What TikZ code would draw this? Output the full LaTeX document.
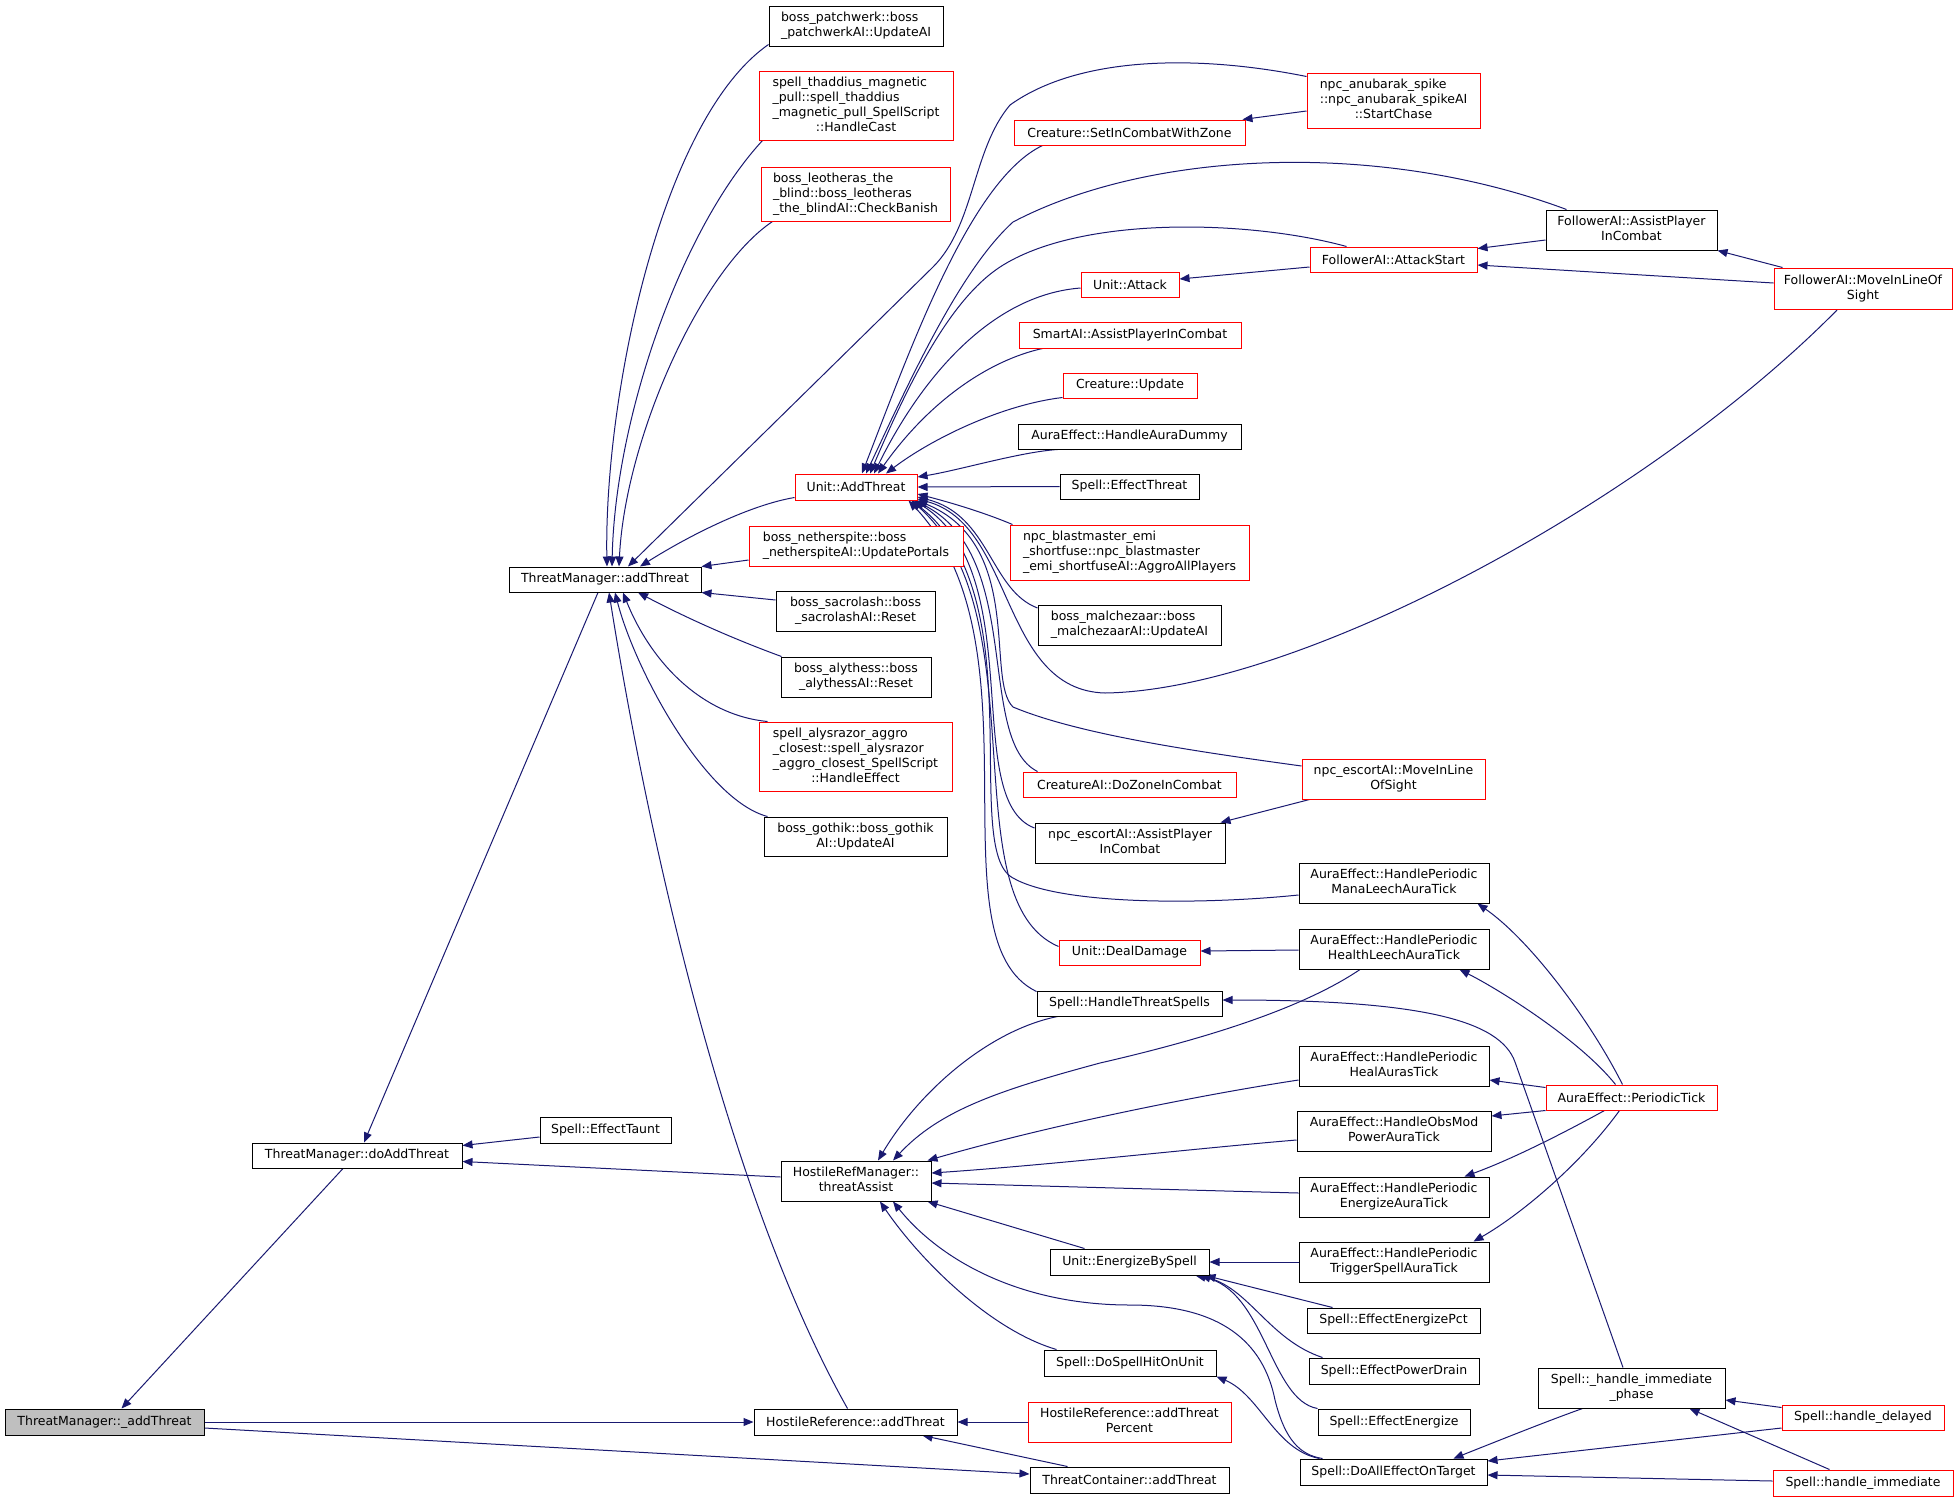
\documentclass[tikz,border=0pt]{standalone}
\usepackage{fontspec}
\setmainfont{DejaVu Sans}
\usetikzlibrary{arrows.meta,backgrounds}

\definecolor{edgeblue}{HTML}{191970}
\definecolor{rootgray}{HTML}{BFBFBF}

\tikzset{
  fn/.style={draw=black, fill=white, line width=1pt, inner sep=0pt,
    font=\fontsize{12.5}{15}\selectfont},
  fnred/.style={fn, draw=red},
  fnroot/.style={fn, fill=rootgray},
  call/.style={draw=edgeblue, line width=1pt,
    arrows={Triangle[length=10pt,width=8pt,fill=edgeblue]-}}
}

% box given by its corners (x1,y1) (x2,y2) in pixels
\newcommand{\callnode}[7][fn]{%
  \node[#1, minimum width={(#5-#3)*1pt}, minimum height={(#6-#4)*1pt}]
    (#2) at ({(#3+#5)/2},{(#4+#6)/2}) {#7};}
\newcommand{\rows}[1]{\begin{tabular}{@{}l@{}}#1\end{tabular}}
\newcommand{\lastrow}[1]{\multicolumn{1}{@{}c@{}}{#1}}

\begin{document}
\begin{tikzpicture}[x=1pt,y=-1pt]
\useasboundingbox (0,0) rectangle (1959,1502);

% left part
\callnode[fnroot]{root}{5}{1409}{204}{1435}{ThreatManager::\_addThreat}
\callnode{doAdd}{252}{1143}{462}{1168}{ThreatManager::doAddThreat}
\callnode{tmAdd}{509}{567}{701}{592}{ThreatManager::addThreat}
\callnode{effectTaunt}{540}{1117}{671}{1143}{Spell::EffectTaunt}
\callnode{threatAssist}{781}{1161}{931}{1201}{\rows{HostileRefManager::\\\lastrow{threatAssist}}}
\callnode{hostileAdd}{754}{1409}{957}{1435}{HostileReference::addThreat}

% callers of ThreatManager::addThreat
\callnode{patchwerk}{769}{6}{943}{46}{\rows{boss\_patchwerk::boss\\\lastrow{\_patchwerkAI::UpdateAI}}}
\callnode[fnred]{thaddius}{759}{71}{953}{140}{\rows{spell\_thaddius\_magnetic\\\_pull::spell\_thaddius\\\_magnetic\_pull\_SpellScript\\\lastrow{::HandleCast}}}
\callnode[fnred]{leotheras}{761}{167}{950}{221}{\rows{boss\_leotheras\_the\\\_blind::boss\_leotheras\\\lastrow{\_the\_blindAI::CheckBanish}}}
\callnode[fnred]{unitAdd}{795}{474}{917}{500}{Unit::AddThreat}
\callnode[fnred]{netherspite}{749}{526}{963}{566}{\rows{boss\_netherspite::boss\\\lastrow{\_netherspiteAI::UpdatePortals}}}
\callnode{sacrolash}{776}{591}{935}{631}{\rows{boss\_sacrolash::boss\\\lastrow{\_sacrolashAI::Reset}}}
\callnode{alythess}{781}{657}{931}{697}{\rows{boss\_alythess::boss\\\lastrow{\_alythessAI::Reset}}}
\callnode[fnred]{alysrazor}{759}{722}{952}{791}{\rows{spell\_alysrazor\_aggro\\\_closest::spell\_alysrazor\\\_aggro\_closest\_SpellScript\\\lastrow{::HandleEffect}}}
\callnode{gothik}{764}{817}{947}{856}{\rows{boss\_gothik::boss\_gothik\\\lastrow{AI::UpdateAI}}}

% callers of Unit::AddThreat
\callnode[fnred]{setInCombat}{1014}{120}{1245}{145}{Creature::SetInCombatWithZone}
\callnode[fnred]{anubarak}{1307}{73}{1480}{128}{\rows{npc\_anubarak\_spike\\::npc\_anubarak\_spikeAI\\\lastrow{::StartChase}}}
\callnode[fnred]{attackStart}{1310}{247}{1477}{272}{FollowerAI::AttackStart}
\callnode[fnred]{unitAttack}{1081}{272}{1179}{297}{Unit::Attack}
\callnode[fnred]{smartAssist}{1019}{322}{1241}{348}{SmartAI::AssistPlayerInCombat}
\callnode[fnred]{creatureUpdate}{1063}{373}{1197}{398}{Creature::Update}
\callnode{auraDummy}{1018}{424}{1241}{449}{AuraEffect::HandleAuraDummy}
\callnode{effectThreat}{1060}{474}{1199}{499}{Spell::EffectThreat}
\callnode{followerAssist}{1546}{210}{1717}{250}{\rows{FollowerAI::AssistPlayer\\\lastrow{InCombat}}}
\callnode[fnred]{followerMove}{1774}{268}{1952}{309}{\rows{FollowerAI::MoveInLineOf\\\lastrow{Sight}}}
\callnode[fnred]{blastmaster}{1010}{525}{1249}{580}{\rows{npc\_blastmaster\_emi\\\_shortfuse::npc\_blastmaster\\\lastrow{\_emi\_shortfuseAI::AggroAllPlayers}}}
\callnode{malchezaar}{1038}{605}{1221}{645}{\rows{boss\_malchezaar::boss\\\lastrow{\_malchezaarAI::UpdateAI}}}
\callnode[fnred]{escortMove}{1302}{759}{1485}{799}{\rows{npc\_escortAI::MoveInLine\\\lastrow{OfSight}}}
\callnode[fnred]{doZone}{1023}{772}{1236}{797}{CreatureAI::DoZoneInCombat}
\callnode{escortAssist}{1035}{823}{1225}{863}{\rows{npc\_escortAI::AssistPlayer\\\lastrow{InCombat}}}
\callnode{manaLeech}{1299}{863}{1489}{903}{\rows{AuraEffect::HandlePeriodic\\\lastrow{ManaLeechAuraTick}}}
\callnode[fnred]{dealDamage}{1059}{940}{1200}{965}{Unit::DealDamage}
\callnode{healthLeech}{1299}{929}{1489}{969}{\rows{AuraEffect::HandlePeriodic\\\lastrow{HealthLeechAuraTick}}}
\callnode{threatSpells}{1037}{991}{1222}{1016}{Spell::HandleThreatSpells}

% callers of HostileRefManager::threatAssist
\callnode{healAuras}{1299}{1046}{1489}{1086}{\rows{AuraEffect::HandlePeriodic\\\lastrow{HealAurasTick}}}
\callnode{obsMod}{1297}{1111}{1491}{1151}{\rows{AuraEffect::HandleObsMod\\\lastrow{PowerAuraTick}}}
\callnode{energizeAura}{1299}{1177}{1489}{1217}{\rows{AuraEffect::HandlePeriodic\\\lastrow{EnergizeAuraTick}}}
\callnode{triggerSpell}{1299}{1242}{1489}{1282}{\rows{AuraEffect::HandlePeriodic\\\lastrow{TriggerSpellAuraTick}}}
\callnode{energizeBySpell}{1050}{1249}{1209}{1275}{Unit::EnergizeBySpell}
\callnode{energizePct}{1307}{1308}{1480}{1333}{Spell::EffectEnergizePct}
\callnode{powerDrain}{1309}{1358}{1479}{1384}{Spell::EffectPowerDrain}
\callnode{effectEnergize}{1318}{1409}{1470}{1435}{Spell::EffectEnergize}
\callnode{doSpellHit}{1044}{1350}{1216}{1376}{Spell::DoSpellHitOnUnit}
\callnode[fnred]{hostilePercent}{1028}{1402}{1231}{1442}{\rows{HostileReference::addThreat\\\lastrow{Percent}}}
\callnode{containerAdd}{1030}{1467}{1229}{1493}{ThreatContainer::addThreat}
\callnode{doAllEffect}{1300}{1459}{1487}{1485}{Spell::DoAllEffectOnTarget}
\callnode[fnred]{periodicTick}{1546}{1085}{1717}{1110}{AuraEffect::PeriodicTick}
\callnode{immPhase}{1538}{1368}{1725}{1408}{\rows{Spell::\_handle\_immediate\\\lastrow{\_phase}}}
\callnode[fnred]{handleDelayed}{1782}{1405}{1944}{1430}{Spell::handle\_delayed}
\callnode[fnred]{handleImm}{1773}{1470}{1953}{1496}{Spell::handle\_immediate}

\begin{pgfonlayer}{background}
% ThreatManager::_addThreat and doAddThreat
\draw[call] ([xshift=17pt]root.north) -- ([xshift=-14pt]doAdd.south);
\draw[call] (hostileAdd.west) -- (root.east);
\draw[call] ([yshift=6pt]containerAdd.west) -- ([yshift=-6pt]root.east);
\draw[call] ([xshift=7pt]doAdd.north) -- ([xshift=-7pt]tmAdd.south);
\draw[call] ([yshift=10pt]doAdd.east) -- ([yshift=-7pt]effectTaunt.west);
\draw[call] ([yshift=-6pt]doAdd.east) -- ([yshift=4pt]threatAssist.west);

% ThreatManager::addThreat
\draw[call] ([xshift=2pt]tmAdd.north) .. controls (604,400) and (660,120) .. ([yshift=2pt]patchwerk.south west);
\draw[call] ([xshift=7pt]tmAdd.north) .. controls (615,420) and (680,230) .. ([xshift=4pt]thaddius.south west);
\draw[call] ([xshift=14pt]tmAdd.north) .. controls (625,440) and (700,270) .. ([xshift=12pt]leotheras.south west);
\draw[call] ([xshift=23pt]tmAdd.north) -- (933,267) .. controls (975,225) and (972,150) .. (1010,105)
  .. controls (1080,55) and (1200,55) .. ([yshift=-4pt]anubarak.north west);
\draw[call] ([xshift=35pt]tmAdd.north) .. controls (690,535) and (750,505) .. ([yshift=3pt]unitAdd.south west);
\draw[call] (tmAdd.north east) -- ([yshift=-14pt]netherspite.west);
\draw[call] (tmAdd.south east) -- ([yshift=11pt]sacrolash.west);
\draw[call] ([xshift=33pt]tmAdd.south) .. controls (700,625) and (750,645) .. ([xshift=1pt]alythess.north west);
\draw[call] ([xshift=18pt]tmAdd.south) .. controls (650,660) and (700,715) .. ([xshift=9pt]alysrazor.north west);
\draw[call] ([xshift=10pt]tmAdd.south) .. controls (635,670) and (705,800) .. ([xshift=4pt]gothik.north west);
\draw[call] ([xshift=4pt]tmAdd.south) .. controls (650,850) and (730,1200) .. ([xshift=-8pt]hostileAdd.north);

% Unit::AddThreat
\draw[call] ([xshift=6pt]unitAdd.north) .. controls (910,350) and (970,180) .. ([xshift=29pt]setInCombat.south west);
\draw[call] ([xshift=10pt]unitAdd.north) .. controls (910,380) and (960,270) .. (1013,222)
  .. controls (1150,150) and (1380,140) .. ([xshift=21pt]followerAssist.north west);
\draw[call] ([xshift=14pt]unitAdd.north) .. controls (910,380) and (950,300) .. (1000,267)
  .. controls (1080,215) and (1250,220) .. ([xshift=37pt]attackStart.north west);
\draw[call] ([xshift=18pt]unitAdd.north) .. controls (920,380) and (990,295) .. ([yshift=-3.5pt]unitAttack.west);
\draw[call] ([xshift=22pt]unitAdd.north) .. controls (930,400) and (990,360) .. ([xshift=24pt]smartAssist.south west);
\draw[call] ([xshift=30pt]unitAdd.north) .. controls (930,440) and (1000,405) .. ([yshift=1pt]creatureUpdate.south west);
\draw[call] ([yshift=10pt]unitAdd.east) .. controls (960,470) and (1020,452) .. ([xshift=40pt]auraDummy.south west);
\draw[call] (unitAdd.east) -- (effectThreat.west);
\draw[call] ([yshift=-7pt]unitAdd.east) .. controls (960,505) and (990,515) .. ([xshift=3pt]blastmaster.north west);
\draw[call] ([yshift=-10pt]unitAdd.east) .. controls (990,515) and (990,590) .. ([yshift=17pt]malchezaar.west);
\draw[call] ([yshift=-12pt]unitAdd.east) .. controls (1015,525) and (1000,690) .. (1105,693)
  .. controls (1300,690) and (1650,500) .. ([xshift=64pt]followerMove.south west);
\draw[call] (unitAdd.south east) .. controls (1025,545) and (985,680) .. (1013,707)
  .. controls (1080,735) and (1200,752) .. ([yshift=13pt]escortMove.west);
\draw[call] ([xshift=-3pt]unitAdd.south east) .. controls (1025,555) and (975,740) .. ([xshift=15pt]doZone.north west);
\draw[call] ([xshift=-3pt]unitAdd.south east) .. controls (1030,575) and (960,800) .. ([yshift=15pt]escortAssist.west);
\draw[call] ([xshift=-6pt]unitAdd.south east) .. controls (1035,595) and (960,850) .. (1013,878)
  .. controls (1060,905) and (1200,905) .. ([yshift=-12pt]manaLeech.west);
\draw[call] ([xshift=-6pt]unitAdd.south east) .. controls (1040,615) and (950,900) .. ([yshift=6pt]dealDamage.west);
\draw[call] ([xshift=-9pt]unitAdd.south east) .. controls (1045,645) and (930,940) .. ([yshift=-1pt]threatSpells.north west);

% second level on the right
\draw[call] ([xshift=-3pt]setInCombat.north east) -- ([yshift=-10.5pt]anubarak.west);
\draw[call] ([yshift=5.5pt]unitAttack.east) -- ([yshift=-7.5pt]attackStart.west);
\draw[call] ([yshift=11pt]attackStart.east) -- ([yshift=-10pt]followerAssist.west);
\draw[call] ([yshift=-5.5pt]attackStart.east) -- ([yshift=5.5pt]followerMove.west);
\draw[call] (followerAssist.south east) -- ([xshift=9pt]followerMove.north west);
\draw[call] ([xshift=-5pt]escortAssist.north east) -- ([xshift=8pt]escortMove.south west);
\draw[call] ([yshift=1.5pt]dealDamage.east) -- ([yshift=-1pt]healthLeech.west);
\draw[call] ([yshift=3.5pt]threatSpells.east) .. controls (1420,1000) and (1500,1020) .. (1515,1062)
  -- ([xshift=-8.5pt]immPhase.north);

% HostileRefManager::threatAssist
\draw[call] ([xshift=22pt]threatAssist.north) .. controls (920,1090) and (990,1030) .. ([xshift=21pt]threatSpells.south west);
\draw[call] ([xshift=37pt]threatAssist.north) .. controls (940,1110) and (1000,1090) .. (1100,1063)
  .. controls (1200,1040) and (1300,1010) .. ([xshift=-34pt]healthLeech.south);
\draw[call] ([xshift=-4pt]threatAssist.north east) .. controls (1050,1125) and (1200,1095) .. ([yshift=-14pt]healAuras.west);
\draw[call] ([yshift=8pt]threatAssist.east) .. controls (1050,1165) and (1200,1148) .. ([yshift=-9pt]obsMod.west);
\draw[call] ([yshift=-2pt]threatAssist.east) -- ([yshift=4pt]energizeAura.west);
\draw[call] ([xshift=-4pt]threatAssist.south east) -- ([xshift=35pt]energizeBySpell.north west);
\draw[call] ([xshift=37pt]threatAssist.south) .. controls (940,1260) and (1020,1305) .. (1130,1305)
  .. controls (1230,1305) and (1265,1350) .. (1275,1400)
  .. controls (1285,1440) and (1300,1455) .. ([xshift=23pt]doAllEffect.north west);
\draw[call] ([xshift=24pt]threatAssist.south) .. controls (920,1260) and (990,1330) .. ([xshift=13pt]doSpellHit.north west);

% Unit::EnergizeBySpell and Spell::DoSpellHitOnUnit
\draw[call] (energizeBySpell.east) -- (triggerSpell.west);
\draw[call] ([xshift=-4pt]energizeBySpell.south east) -- ([xshift=26pt]energizePct.north west);
\draw[call] ([xshift=-9pt]energizeBySpell.south east) .. controls (1250,1290) and (1270,1340) .. ([xshift=14pt]powerDrain.north west);
\draw[call] ([xshift=-14pt]energizeBySpell.south east) .. controls (1265,1290) and (1270,1400) .. (effectEnergize.north west);
\draw[call] (doSpellHit.south east) .. controls (1260,1395) and (1275,1450) .. ([xshift=20pt]doAllEffect.north west);

% HostileReference::addThreat
\draw[call] (hostileAdd.east) -- (hostilePercent.west);
\draw[call] ([xshift=-35pt]hostileAdd.south east) -- ([xshift=38pt]containerAdd.north west);

% AuraEffect::PeriodicTick
\draw[call] ([xshift=-12pt]manaLeech.south east) .. controls (1530,940) and (1590,1020) .. ([xshift=77pt]periodicTick.north west);
\draw[call] ([xshift=-30pt]healthLeech.south east) .. controls (1500,990) and (1580,1040) .. ([xshift=70pt]periodicTick.north west);
\draw[call] ([yshift=-14pt]healAuras.east) -- ([yshift=10pt]periodicTick.west);
\draw[call] ([yshift=15pt]obsMod.east) -- (periodicTick.south west);
\draw[call] ([xshift=-25pt]energizeAura.north east) .. controls (1510,1160) and (1560,1135) .. ([xshift=59pt]periodicTick.south west);
\draw[call] ([xshift=-16pt]triggerSpell.north east) .. controls (1520,1215) and (1580,1165) .. ([xshift=74pt]periodicTick.south west);

% Spell::DoAllEffectOnTarget and Spell::_handle_immediate_phase
\draw[call] ([xshift=-34pt]doAllEffect.north east) .. controls (1500,1440) and (1550,1420) .. ([xshift=45pt]immPhase.south west);
\draw[call] ([yshift=11pt]doAllEffect.east) -- ([yshift=-10.5pt]handleDelayed.west);
\draw[call] ([yshift=-3pt]doAllEffect.east) -- ([yshift=2pt]handleImm.west);
\draw[call] ([yshift=-12pt]immPhase.east) -- ([yshift=10pt]handleDelayed.west);
\draw[call] ([xshift=58pt]immPhase.south) -- ([xshift=57pt]handleImm.north west);
\end{pgfonlayer}
\end{tikzpicture}
\end{document}
